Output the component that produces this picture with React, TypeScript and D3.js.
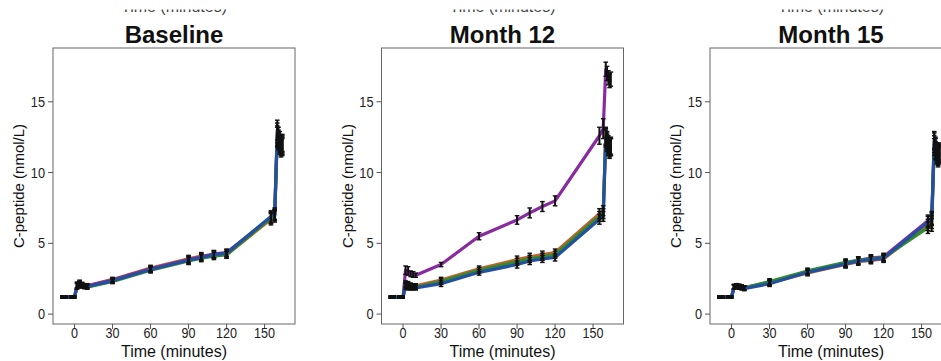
import React from "react";
import * as d3 from "d3";

const times = [-10, -7, -3, 0, 2, 4, 6, 8, 10, 30, 60, 90, 100, 110, 120, 155, 158, 160, 161, 162, 163, 164];
const xTicks = [0, 30, 60, 90, 120, 150];
const yTicks = [0, 5, 10, 15];
const panelTitles = ["Baseline", "Month 12", "Month 15"];
const seriesNames = ["red", "purple", "green", "blue"];
const seriesColors = ["#c0602a", "#8a2aa0", "#2e8b2e", "#2350a0"];

// Baseline
const baseRed = [1.2, 1.2, 1.2, 1.2, 2.05, 2.15, 2.05, 2.0, 2.0, 2.45, 3.25, 3.9, 4.1, 4.2, 4.2, 6.7, 6.9, 12.5, 12.3, 12.0, 11.8, 11.9];
const basePurple = [1.2, 1.2, 1.2, 1.2, 2.05, 2.2, 2.1, 2.0, 2.0, 2.4, 3.2, 3.85, 4.05, 4.25, 4.35, 6.8, 7.0, 13.0, 12.6, 12.3, 12.0, 12.1];
const baseGreen = [1.2, 1.2, 1.2, 1.2, 1.95, 2.05, 2.0, 1.95, 1.9, 2.3, 3.1, 3.75, 3.95, 4.1, 4.2, 6.8, 7.0, 12.6, 12.2, 11.9, 11.7, 11.8];
const baseBlue = [1.2, 1.2, 1.2, 1.2, 2.0, 2.1, 2.0, 1.95, 1.95, 2.35, 3.15, 3.8, 4.0, 4.2, 4.3, 6.9, 7.1, 12.8, 12.4, 12.1, 11.9, 12.0];
const baseErr = [0.05, 0.05, 0.05, 0.05, 0.2, 0.2, 0.15, 0.15, 0.15, 0.15, 0.2, 0.25, 0.25, 0.25, 0.25, 0.4, 0.4, 0.7, 0.6, 0.6, 0.6, 0.6];

// Month 12
const m12Red = [1.2, 1.2, 1.2, 1.2, 2.15, 2.1, 2.05, 2.0, 2.0, 2.4, 3.2, 3.85, 4.05, 4.2, 4.35, 7.1, 7.3, 12.6, 12.3, 12.0, 11.8, 11.9];
const m12Purple = [1.2, 1.2, 1.2, 1.2, 3.1, 3.05, 2.85, 2.8, 2.75, 3.5, 5.5, 6.65, 7.15, 7.6, 8.0, 12.6, 13.1, 17.3, 17.0, 16.7, 16.5, 16.6];
const m12Green = [1.2, 1.2, 1.2, 1.2, 2.05, 2.0, 1.95, 1.95, 1.9, 2.3, 3.1, 3.7, 3.9, 4.05, 4.2, 6.9, 7.1, 12.5, 12.2, 11.9, 11.7, 11.8];
const m12Blue = [1.2, 1.2, 1.2, 1.2, 1.95, 1.9, 1.85, 1.85, 1.85, 2.15, 2.95, 3.5, 3.75, 3.9, 4.0, 6.7, 6.9, 12.4, 12.1, 11.8, 11.6, 11.8];
const m12Err = [0.05, 0.05, 0.05, 0.05, 0.2, 0.2, 0.15, 0.15, 0.15, 0.2, 0.2, 0.25, 0.25, 0.25, 0.25, 0.35, 0.35, 0.6, 0.6, 0.6, 0.6, 0.6];
const m12PurpleErr = [0.05, 0.05, 0.05, 0.05, 0.3, 0.3, 0.2, 0.2, 0.15, 0.15, 0.25, 0.3, 0.35, 0.35, 0.35, 0.6, 0.7, 0.5, 0.5, 0.5, 0.5, 0.5];

// Month 15
const m15Red = [1.2, 1.2, 1.2, 1.2, 1.9, 2.0, 1.95, 1.9, 1.85, 2.2, 2.9, 3.5, 3.7, 3.8, 3.9, 6.3, 6.5, 11.8, 11.5, 11.2, 11.0, 11.2];
const m15Purple = [1.2, 1.2, 1.2, 1.2, 1.95, 2.0, 1.95, 1.9, 1.85, 2.25, 3.0, 3.6, 3.8, 3.95, 4.05, 6.6, 6.8, 12.3, 11.9, 11.5, 11.3, 11.5];
const m15Green = [1.2, 1.2, 1.2, 1.2, 1.95, 2.0, 1.95, 1.9, 1.85, 2.3, 3.05, 3.65, 3.8, 3.9, 4.0, 6.1, 6.3, 12.0, 11.6, 11.3, 11.1, 11.3];
const m15Blue = [1.2, 1.2, 1.2, 1.2, 1.9, 1.95, 1.9, 1.85, 1.8, 2.15, 2.95, 3.55, 3.75, 3.85, 3.95, 6.5, 6.7, 12.2, 11.8, 11.4, 11.2, 11.4];
const m15Err = [0.05, 0.05, 0.05, 0.05, 0.15, 0.15, 0.15, 0.15, 0.15, 0.2, 0.2, 0.25, 0.25, 0.25, 0.25, 0.4, 0.45, 0.6, 0.6, 0.6, 0.6, 0.6];

const panelSeries = [
  [baseRed, basePurple, baseGreen, baseBlue],
  [m12Red, m12Purple, m12Green, m12Blue],
  [m15Red, m15Purple, m15Green, m15Blue],
];
const panelErrors = [
  [baseErr, baseErr, baseErr, baseErr],
  [m12Err, m12PurpleErr, m12Err, m12Err],
  [m15Err, m15Err, m15Err, m15Err],
];

const W = 941;
const H = 361;
const boxLeft = 53;
const boxW = 242;
const boxTop = 48;
const boxBottom = 324;
const panelStep = 328.5;
const font = "Arial, 'Liberation Sans', Helvetica, sans-serif";

function Panel({ idx }: { idx: number }) {
  const x0 = boxLeft + idx * panelStep;
  const x = d3.scaleLinear().domain([-17, 174]).range([x0, x0 + boxW]);
  const y = d3.scaleLinear().domain([-0.7, 18.8]).range([boxBottom, boxTop]);
  const line = d3
    .line<number>()
    .x((_, i) => x(times[i]))
    .y((v) => y(v));
  const cx = x0 + boxW / 2;
  const cy = (boxTop + boxBottom) / 2;
  const series = panelSeries[idx];
  const errs = panelErrors[idx];
  return (
    <g>
      {/* cut-off axis title from the row above */}
      <text x={cx} y={12} textAnchor="middle" fontFamily={font} fontSize={16} fill="#444">
        Time (minutes)
      </text>
      <text x={cx} y={43} textAnchor="middle" fontFamily={font} fontSize={24} fontWeight="bold" fill="#111">
        {panelTitles[idx]}
      </text>
      <rect x={x0} y={boxTop} width={boxW} height={boxBottom - boxTop} fill="white" stroke="#666" strokeWidth={1} />
      {series.map((vals, s) => (
        <path key={s} d={line(vals) || ""} fill="none" stroke={seriesColors[s]} strokeWidth={3.2} strokeLinejoin="round" />
      ))}
      {series.map((vals, s) =>
        vals.map((v, i) => {
          const px = x(times[i]);
          const e = errs[s][i];
          if (times[i] <= 0) {
            return <rect key={`${s}-${i}`} x={px - 1.8} y={y(v) - 1.8} width={3.6} height={3.6} fill="#111" />;
          }
          const yt = y(v + e);
          const yb = y(v - e);
          return (
            <g key={`${s}-${i}`} stroke="#111" strokeWidth={1.4}>
              <line x1={px} x2={px} y1={yt} y2={yb} strokeWidth={2} />
              <line x1={px - 2.3} x2={px + 2.3} y1={yt} y2={yt} />
              <line x1={px - 2.3} x2={px + 2.3} y1={yb} y2={yb} />
            </g>
          );
        })
      )}
      {yTicks.map((t) => (
        <g key={`y${t}`}>
          <line x1={x0 - 5} x2={x0} y1={y(t)} y2={y(t)} stroke="#555" />
          <text
            x={x0 - 8}
            y={y(t)}
            dy="0.35em"
            textAnchor="end"
            fontFamily={font}
            fontSize={14.5}
            fill="#222"
            transform={`translate(${x0 - 8},0) scale(0.88,1) translate(${-(x0 - 8)},0)`}
          >
            {t}
          </text>
        </g>
      ))}
      {xTicks.map((t) => (
        <g key={`x${t}`}>
          <line x1={x(t)} x2={x(t)} y1={boxBottom} y2={boxBottom + 5} stroke="#555" />
          <text
            x={x(t)}
            y={338.5}
            textAnchor="middle"
            fontFamily={font}
            fontSize={14}
            fill="#222"
            transform={`translate(${x(t)},0) scale(0.9,1) translate(${-x(t)},0)`}
          >
            {t}
          </text>
        </g>
      ))}
      <text x={cx} y={357} textAnchor="middle" fontFamily={font} fontSize={16} fill="#111">
        Time (minutes)
      </text>
      <text
        transform={`translate(${24 + idx * panelStep},${cy}) rotate(-90)`}
        textAnchor="middle"
        fontFamily={font}
        fontSize={15}
        fill="#111"
      >
        C-peptide (nmol/L)
      </text>
    </g>
  );
}

export default function App() {
  return (
    <svg
      width={W}
      height={H}
      viewBox={`0 0 ${W} ${H}`}
      style={{ position: "absolute", left: 0, top: 0, background: "white" }}
    >
      <rect x={0} y={0} width={W} height={H} fill="white" />
      {panelTitles.map((_, i) => (
        <Panel key={i} idx={i} />
      ))}
      <rect x={0} y={0} width={W} height={9.5} fill="white" />
    </svg>
  );
}
